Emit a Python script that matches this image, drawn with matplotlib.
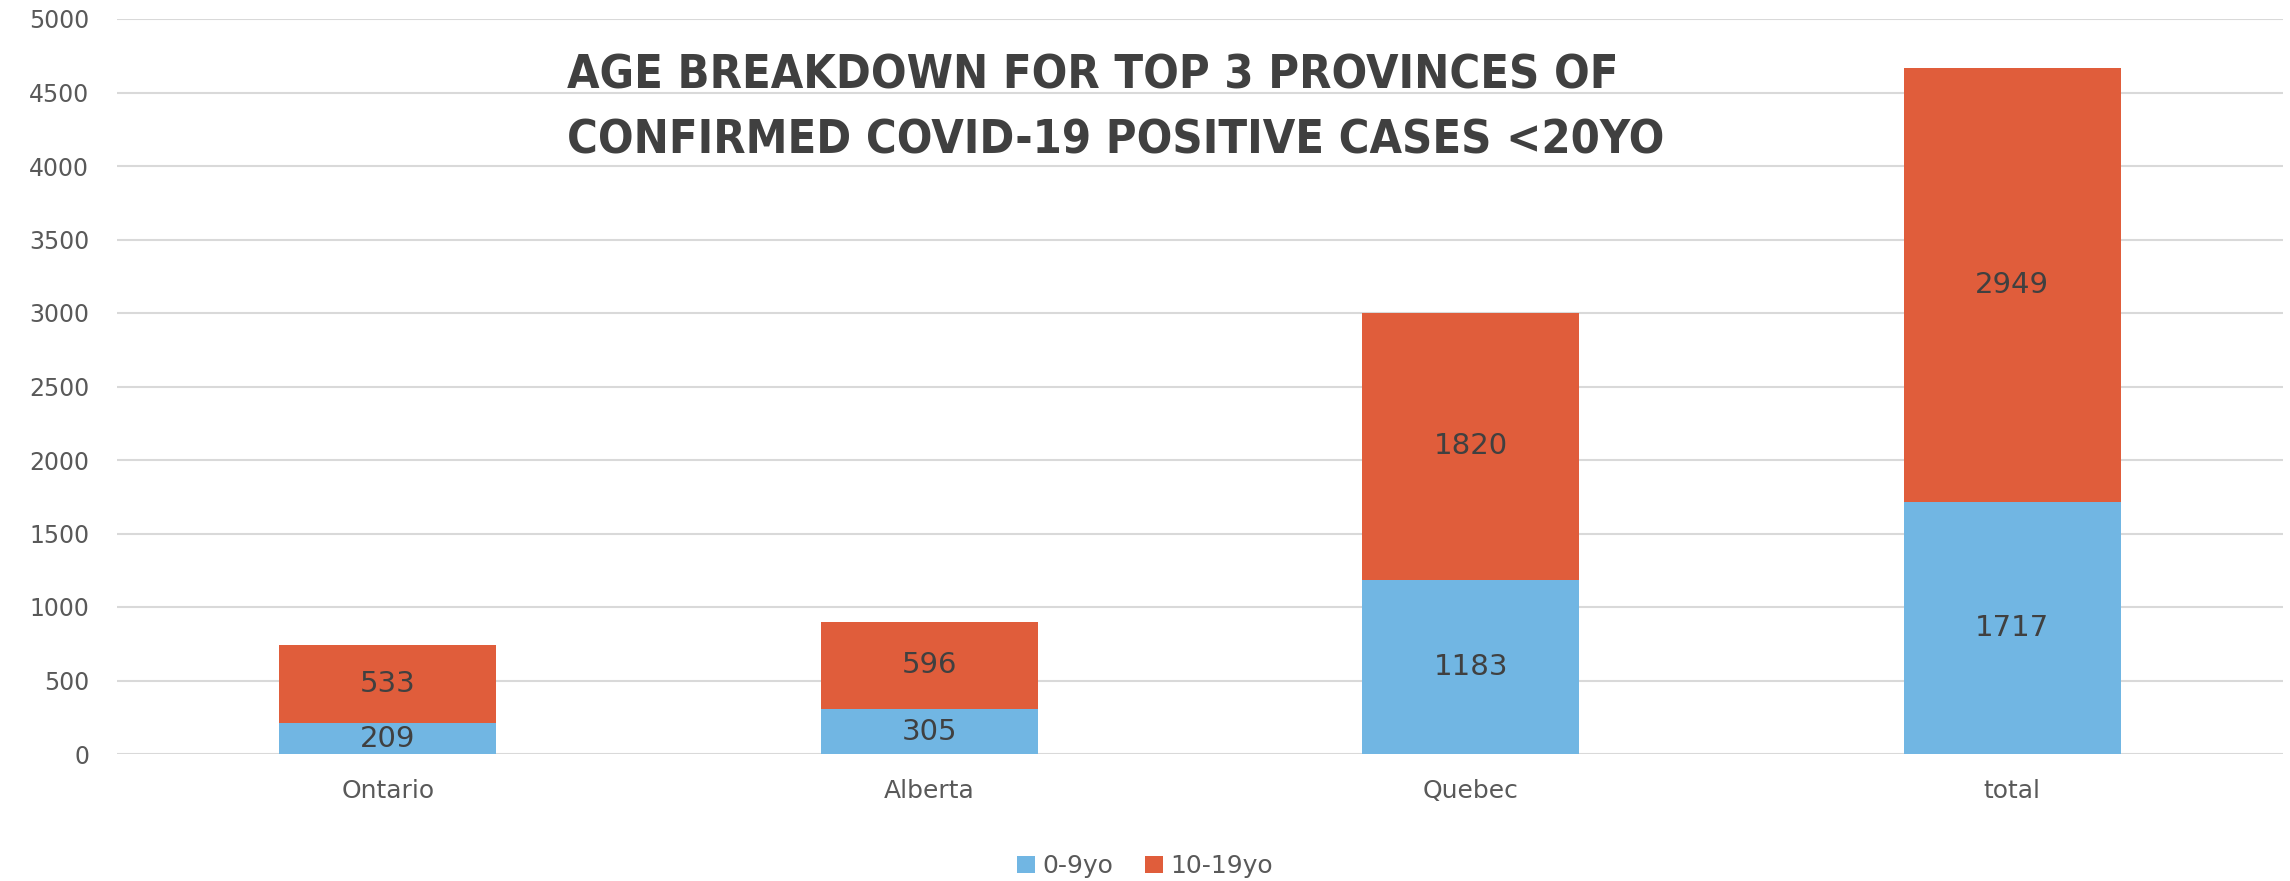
import matplotlib.pyplot as plt

provinces = ['Ontario', 'Alberta', 'Quebec', 'total']
age_0_9 = [209, 305, 1183, 1717]
age_10_19 = [533, 596, 1820, 2949]
series_names = ['0-9yo', '10-19yo']
title_lines = ['AGE BREAKDOWN FOR TOP 3 PROVINCES OF',
               'CONFIRMED COVID-19 POSITIVE CASES <20YO']

blue = '#71B6E3'
red = '#E05D3B'
dark = '#404040'
grey = '#595959'

fig = plt.figure(figsize=(22.9, 8.81), dpi=100)
ax = fig.add_axes([117 / 2290, 1 - 754 / 881, (2283 - 117) / 2290, (754 - 19) / 881])

x = range(len(provinces))
b1 = ax.bar(x, age_0_9, width=0.4, color=blue, label=series_names[0], zorder=3)
b2 = ax.bar(x, age_10_19, width=0.4, bottom=age_0_9, color=red, label=series_names[1], zorder=3)

for i in x:
    ax.text(i, age_0_9[i] / 2, str(age_0_9[i]), ha='center', va='center',
            fontsize=21, color=dark, zorder=4)
    ax.text(i, age_0_9[i] + age_10_19[i] / 2, str(age_10_19[i]), ha='center', va='center',
            fontsize=21, color=dark, zorder=4)

ax.set_xlim(-0.5, 3.5)
ax.set_ylim(0, 5000)
ax.set_yticks(range(0, 5001, 500))
ax.set_xticks(list(x))
ax.set_xticklabels(provinces)
ax.tick_params(axis='both', length=0, colors=grey)
ax.tick_params(axis='y', pad=20, labelsize=17)
ax.tick_params(axis='x', pad=18, labelsize=18)
ax.grid(axis='y', color='#D9D9D9', linewidth=1.5, zorder=0)
for s in ax.spines.values():
    s.set_visible(False)

# titel: smal en vet
for regel, y in zip(title_lines, [76, 141]):
    fig.text(567 / 2290, 1 - y / 881, regel, ha='left', va='center',
             fontsize=33.7, fontweight='bold', fontstretch='condensed',
             family='DejaVu Sans', color=dark)

fig.legend(handles=[b1, b2], loc='center', bbox_to_anchor=(0.5, 1 - 866 / 881), ncol=2,
           frameon=False, fontsize=18, labelcolor=grey, handlelength=0.7, handleheight=0.7,
           handletextpad=0.3, columnspacing=1.3)

fig.savefig('out.png', dpi=100)
